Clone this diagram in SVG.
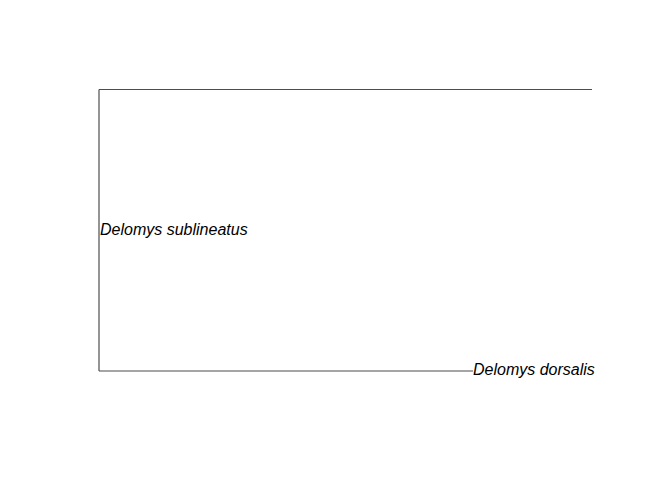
<svg xmlns="http://www.w3.org/2000/svg" width="672" height="480" viewBox="0 0 672 480">
<style>
.e{stroke:#4d4d4d;stroke-width:1.2;fill:none}
.t{font-family:"Liberation Sans",Arial,sans-serif;font-size:16px;font-style:italic;fill:#000}
</style>
<rect width="672" height="480" fill="#fff"/>
<g id="edges">
<line class="e" x1="99" y1="89.5" x2="99" y2="371"/>
<line class="e" x1="99" y1="89.5" x2="592" y2="89.5"/>
<line class="e" x1="99" y1="371" x2="473" y2="371"/>
</g>
<g id="tip1"><text class="t" x="100" y="235">Delomys sublineatus</text></g>
<g id="tip2"><text class="t" x="473" y="375">Delomys dorsalis</text></g>
</svg>
